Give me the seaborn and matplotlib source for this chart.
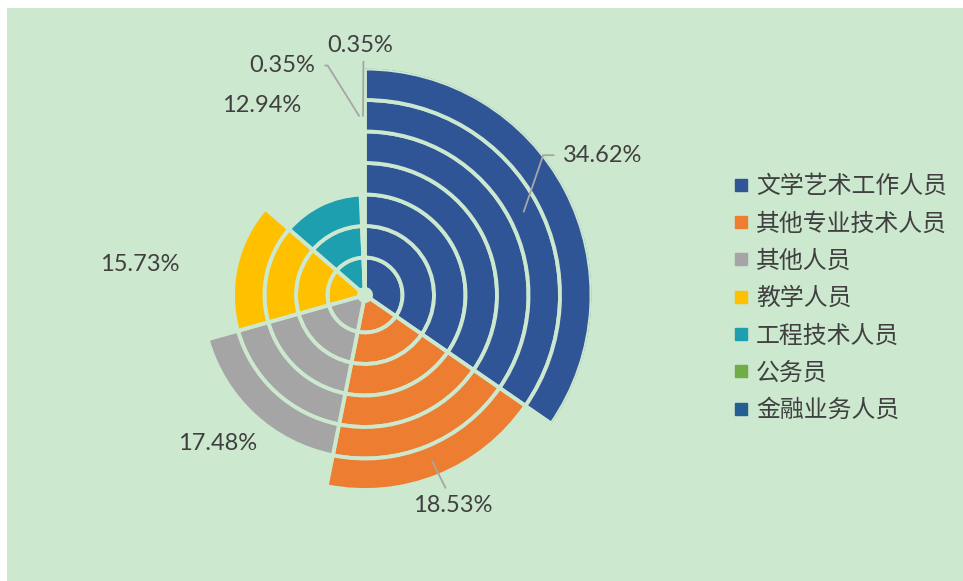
import matplotlib
matplotlib.use("Agg")
import matplotlib.pyplot as plt
import numpy as np
import seaborn as sns
from matplotlib.lines import Line2D
from matplotlib.patches import Rectangle

# Data
categories = ['文学艺术工作人员', '其他专业技术人员', '其他人员', '教学人员', '工程技术人员', '公务员', '金融业务人员']
shares = [34.62, 18.53, 17.48, 15.73, 12.94, 0.35, 0.35]
rings = [7, 6, 5, 4, 3, 2, 1]
colors = ['#2F5597', '#ED7D31', '#A5A5A5', '#FFC000', '#1E9FB0', '#70AD47', '#255E91']

# Label layout (angle clockwise from top in degrees, radius in px)
label_theta = [54.7, 157.3, 224.8, 277.6, 331.5, 340.1, 358.9]
label_r = [242, 228, 209, 227, 216, 244, 250]

bg = '#CCE8CF'
text_color = '#404040'
leader_color = '#A6A6A6'

sns.set_theme(style='white')
plt.rcParams['font.family'] = ['Lato', 'Noto Sans CJK SC', 'DejaVu Sans']

W, H = 963, 581
fig = plt.figure(figsize=(W / 100, H / 100), dpi=100)
fig.patch.set_facecolor('white')
fig.add_artist(Rectangle((7 / W, 0), 1, 1 - 8 / H, transform=fig.transFigure,
                         facecolor=bg, edgecolor='none', zorder=-10))

# Polar axes in pixel units
r0, w = 6, 31.5
R = r0 + max(rings) * w
cx, cy = 365, H - 295
ax = fig.add_axes([(cx - R) / W, (cy - R) / H, 2 * R / W, 2 * R / H], projection='polar')
ax.set_theta_zero_location('N')
ax.set_theta_direction(-1)
ax.set_ylim(0, R)
ax.set_axis_off()

fracs = np.array(shares) / sum(shares)
starts = 2 * np.pi * np.concatenate([[0], np.cumsum(fracs)[:-1]])
widths = 2 * np.pi * fracs

for i in range(len(categories)):
    for k in range(rings[i]):
        ax.bar(starts[i], w, width=widths[i], bottom=r0 + k * w, align='edge',
               color=colors[i], edgecolor=bg, linewidth=2.8)

# Data labels
label_base = r0 + 5.5 * w
mids = starts + widths / 2
lkw = dict(fontsize=17, color=text_color, annotation_clip=False)
for i, val in enumerate(shares):
    txt = f'{val:.2f}%'
    pos = (np.deg2rad(label_theta[i]), label_r[i])
    anchor = (mids[i], label_base)
    if i == 0:
        ax.annotate(txt, xy=anchor, xytext=pos, ha='left', va='center',
                    arrowprops=dict(arrowstyle='-', color=leader_color, lw=1.3, relpos=(0, 0.5),
                                    shrinkA=4, shrinkB=0,
                                    connectionstyle='angle,angleA=180,angleB=71,rad=0'), **lkw)
    elif i == 1:
        ax.annotate(txt, xy=anchor, xytext=pos, ha='center', va='center',
                    arrowprops=dict(arrowstyle='-', color=leader_color, lw=1.3, relpos=(0.45, 1),
                                    shrinkA=3, shrinkB=0), **lkw)
    elif i == 5:
        ax.annotate(txt, xy=anchor, xytext=pos, ha='center', va='center',
                    arrowprops=dict(arrowstyle='-', color=leader_color, lw=1.3, relpos=(1, 0.5),
                                    shrinkA=5, shrinkB=0,
                                    connectionstyle='angle,angleA=0,angleB=122,rad=0'), **lkw)
    elif i == 6:
        ax.annotate(txt, xy=anchor, xytext=pos, ha='center', va='center',
                    arrowprops=dict(arrowstyle='-', color=leader_color, lw=1.3, relpos=(0.55, 0),
                                    shrinkA=2, shrinkB=0), **lkw)
    else:
        ax.annotate(txt, xy=pos, ha='center', va='center', **lkw)

# Legend
handles = [Line2D([], [], marker='s', linestyle='none', markersize=8, color=c) for c in colors]
fig.legend(handles, categories, loc='upper left', bbox_to_anchor=(731 / W, 1 - 175 / H),
           frameon=False, labelspacing=0.6, handlelength=0.8, handletextpad=0.25,
           borderpad=0, borderaxespad=0, labelcolor=text_color,
           prop={'family': ['Noto Sans CJK SC', 'DejaVu Sans'], 'size': 17.2})

fig.savefig('out.png', dpi=100, facecolor=fig.get_facecolor())
